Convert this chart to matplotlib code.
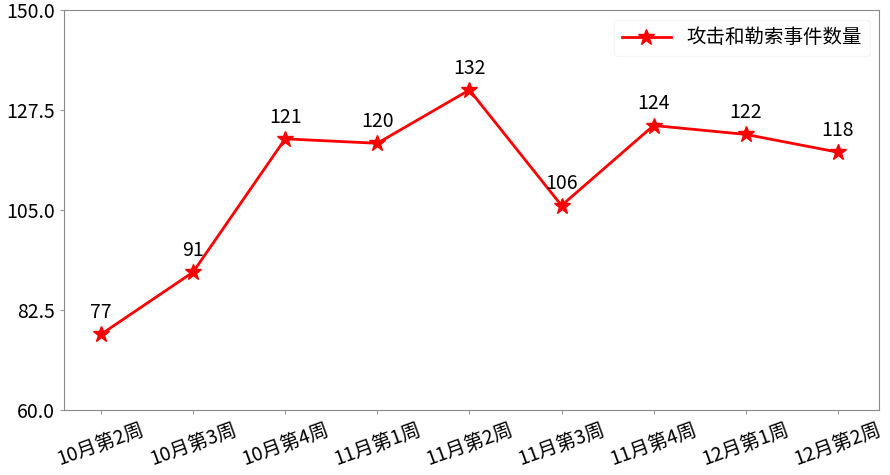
import matplotlib

matplotlib.use("Agg")
import matplotlib.pyplot as plt

plt.rcParams["font.family"] = ["Noto Sans CJK SC", "DejaVu Sans"]
plt.rcParams["axes.unicode_minus"] = False

# ── Data ──────────────────────────────────────────────────────────────
weeks = ["10月第2周", "10月第3周", "10月第4周", "11月第1周", "11月第2周",
         "11月第3周", "11月第4周", "12月第1周", "12月第2周"]
counts = [77, 91, 121, 120, 132, 106, 124, 122, 118]
y_ticks = [60.0, 82.5, 105.0, 127.5, 150.0]

fig = plt.figure(figsize=(8.9, 4.75), dpi=100)
ax = fig.add_axes([0.072, 0.137, 0.916, 0.842])

x = list(range(len(weeks)))
ax.plot(x, counts, color="red", linewidth=2, marker="*", markersize=12,
        label="攻击和勒索事件数量")
for xi, v in zip(x, counts):
    ax.annotate(str(v), (xi, v), xytext=(0, 8), textcoords="offset points",
                ha="center", va="bottom", fontsize=14)

ax.set_xlim(-0.4, 8.45)
ax.set_ylim(60, 150)
ax.set_yticks(y_ticks)
ax.set_yticklabels([f"{t:.1f}" for t in y_ticks], fontsize=14)
ax.set_xticks(x)
ax.set_xticklabels(weeks, rotation=20, fontsize=14)
ax.tick_params(axis="x", length=3, color="#999999")
ax.tick_params(axis="y", length=3, color="#999999")
for s in ax.spines.values():
    s.set_edgecolor("#888888")

ax.legend(loc="upper right", fontsize=14, framealpha=0.8, edgecolor="#f4f4f4",
          handlelength=2.5)

fig.savefig("out.png", dpi=100, facecolor="white")
